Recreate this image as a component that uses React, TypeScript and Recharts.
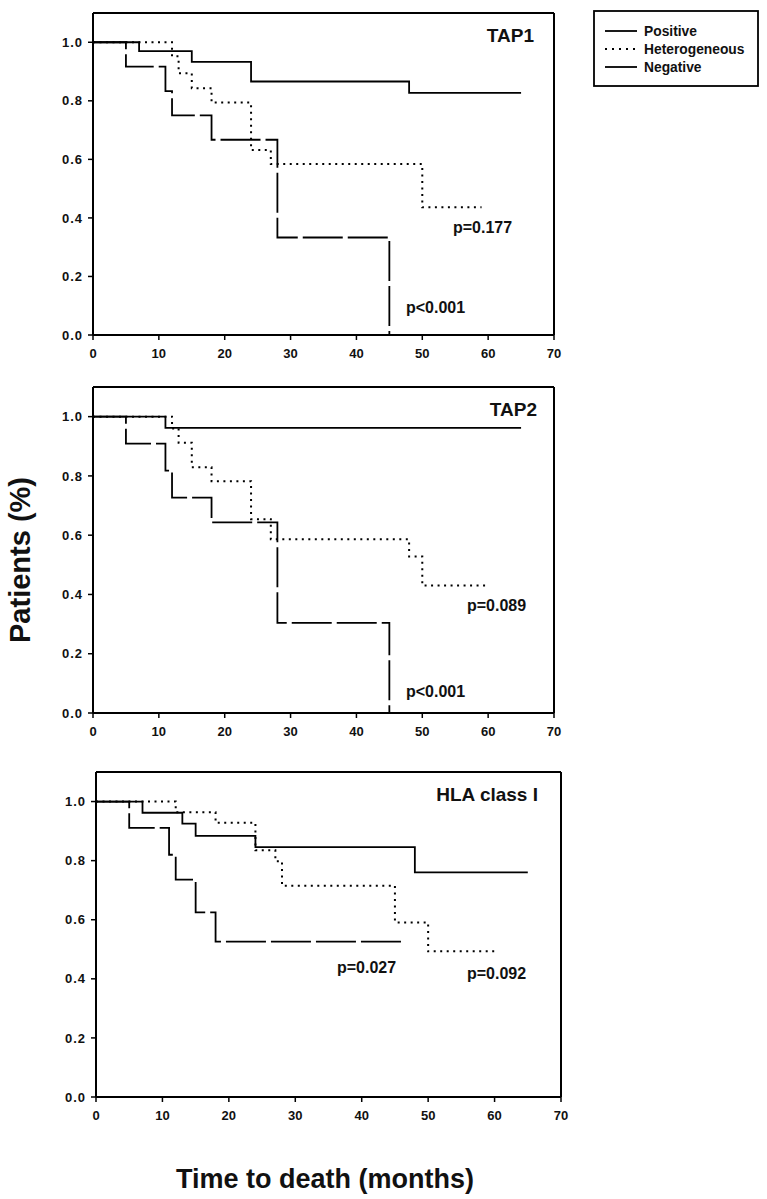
import { LineChart, Line, XAxis, YAxis, ReferenceLine, Legend } from 'recharts'

const FONT = '"Liberation Sans", Arial, Helvetica, sans-serif'

const X_TICKS = [0, 10, 20, 30, 40, 50, 60, 70]
const Y_TICKS = [0, 0.2, 0.4, 0.6, 0.8, 1.0]
const NAMES   = ['Positive', 'Heterogeneous', 'Negative']
const DASHES  = [undefined, '2 4.5', '40 5']

// TAP1
const tap1PosT = [0, 7, 15, 24, 48, 65]
const tap1PosS = [1, 0.97, 0.933, 0.866, 0.827, 0.827]
const tap1HetT = [0, 12, 13, 15, 18, 24, 27, 50, 59]
const tap1HetS = [1, 0.952, 0.894, 0.843, 0.794, 0.632, 0.584, 0.436, 0.436]
const tap1NegT = [0, 5, 11, 12, 18, 28, 45]
const tap1NegS = [1, 0.917, 0.833, 0.75, 0.667, 0.333, 0]

// TAP2
const tap2PosT = [0, 11, 65]
const tap2PosS = [1, 0.962, 0.962]
const tap2HetT = [0, 12, 13, 15, 18, 24, 27, 48, 50, 60]
const tap2HetS = [1, 0.96, 0.912, 0.829, 0.782, 0.654, 0.586, 0.528, 0.43, 0.43]
const tap2NegT = [0, 5, 11, 12, 18, 28, 45]
const tap2NegS = [1, 0.909, 0.818, 0.727, 0.643, 0.304, 0]

// HLA class I
const hlaPosT = [0, 7, 13, 15, 24, 48, 65]
const hlaPosS = [1, 0.962, 0.925, 0.884, 0.846, 0.76, 0.76]
const hlaHetT = [0, 12, 18, 24, 27, 28, 45, 50, 60]
const hlaHetS = [1, 0.964, 0.928, 0.835, 0.798, 0.715, 0.591, 0.493, 0.493]
const hlaNegT = [0, 5, 11, 12, 15, 18, 46]
const hlaNegS = [1, 0.911, 0.82, 0.736, 0.625, 0.526, 0.526]

const pts = (t: number[], s: number[]) => t.map((x, i) => ({ t: x, v: s[i] }))

const tickStyle = { fontSize: 13, fontWeight: 700, fill: '#111', fontFamily: FONT }

function LegendBox() {
  const rows = [21, 39, 57]
  return (
    <svg width={166} height={77} style={{ display: 'block' }}>
      <rect x={1} y={1} width={164} height={75} fill="#fff" stroke="#000" strokeWidth={1.8} />
      {NAMES.map((n, i) => (
        <g key={n}>
          <line x1={12} x2={44} y1={rows[i]} y2={rows[i]} stroke="#000" strokeWidth={1.8}
            strokeDasharray={i === 1 ? '2 5' : undefined} />
          <text x={51} y={rows[i] + 5} fontSize={13.8} fontWeight={700} fontFamily={FONT} fill="#111">{n}</text>
        </g>
      ))}
    </svg>
  )
}

interface PanelProps {
  top: number
  width: number
  height: number
  margin: { top: number; right: number; left: number; bottom: number }
  series: { t: number; v: number }[][]
  legend?: boolean
}

function Panel({ top, width, height, margin, series, legend }: PanelProps) {
  return (
    <div style={{ position: 'absolute', left: 0, top, width, height }}>
      <LineChart width={width} height={height} margin={margin}>
        <XAxis dataKey="t" type="number" domain={[0, 70]} ticks={X_TICKS} interval={0} height={30}
          tick={tickStyle} tickSize={5} tickMargin={9}
          axisLine={{ stroke: '#000', strokeWidth: 2 }} tickLine={{ stroke: '#000', strokeWidth: 1.5 }} />
        <YAxis type="number" domain={[0, 1.1]} ticks={Y_TICKS} interval={0} width={50}
          tick={{ ...tickStyle, letterSpacing: 1 }} tickSize={5} tickMargin={5}
          tickFormatter={(v: number) => v.toFixed(1)}
          axisLine={{ stroke: '#000', strokeWidth: 2 }} tickLine={{ stroke: '#000', strokeWidth: 1.5 }} />
        <ReferenceLine y={1.1} stroke="#000" strokeWidth={2} />
        <ReferenceLine x={70} stroke="#000" strokeWidth={2} />
        {series.map((d, i) => (
          <Line key={NAMES[i]} name={NAMES[i]} data={d} dataKey="v" type="stepAfter"
            stroke="#000" strokeWidth={i === 1 ? 2 : 1.8} strokeDasharray={DASHES[i]}
            dot={false} activeDot={false} isAnimationActive={false} />
        ))}
        {legend && (
          <Legend layout="vertical" align="center" verticalAlign="middle"
            wrapperStyle={{ left: 593, top: 10, width: 166, height: 77 }}
            content={() => <LegendBox />} />
        )}
      </LineChart>
    </div>
  )
}

export default function App() {
  const txt = { fontFamily: FONT, fontWeight: 700, fill: '#111' }
  return (
    <div style={{ position: 'absolute', left: 0, top: 0, width: 767, height: 1199, background: '#fff' }}>
      <Panel top={0} width={767} height={370}
        margin={{ top: 13, right: 213, left: 43, bottom: 5 }}
        series={[pts(tap1PosT, tap1PosS), pts(tap1HetT, tap1HetS), pts(tap1NegT, tap1NegS)]} legend />
      <Panel top={374} width={600} height={374}
        margin={{ top: 13, right: 46, left: 43, bottom: 5 }}
        series={[pts(tap2PosT, tap2PosS), pts(tap2HetT, tap2HetS), pts(tap2NegT, tap2NegS)]} />
      <Panel top={759} width={600} height={373}
        margin={{ top: 13, right: 39, left: 46, bottom: 5 }}
        series={[pts(hlaPosT, hlaPosS), pts(hlaHetT, hlaHetS), pts(hlaNegT, hlaNegS)]} />
      <svg width={767} height={1199} style={{ position: 'absolute', left: 0, top: 0, pointerEvents: 'none' }}>
        <text x={534} y={42} fontSize={19} textAnchor="end" {...txt}>TAP1</text>
        <text x={453} y={233} fontSize={16} {...txt}>p=0.177</text>
        <text x={406} y={313} fontSize={16} {...txt}>p&lt;0.001</text>
        <text x={537} y={416} fontSize={19} textAnchor="end" {...txt}>TAP2</text>
        <text x={467} y={611} fontSize={16} {...txt}>p=0.089</text>
        <text x={406} y={697} fontSize={16} {...txt}>p&lt;0.001</text>
        <text x={538} y={801} fontSize={19} textAnchor="end" {...txt}>HLA class I</text>
        <text x={337} y={973} fontSize={16} {...txt}>p=0.027</text>
        <text x={467} y={979} fontSize={16} {...txt}>p=0.092</text>
        <text transform="translate(29.5,560) rotate(-90)" fontSize={29} textAnchor="middle" {...txt}>Patients (%)</text>
        <text x={325} y={1188} fontSize={27} textAnchor="middle" {...txt}>Time to death (months)</text>
      </svg>
    </div>
  )
}
